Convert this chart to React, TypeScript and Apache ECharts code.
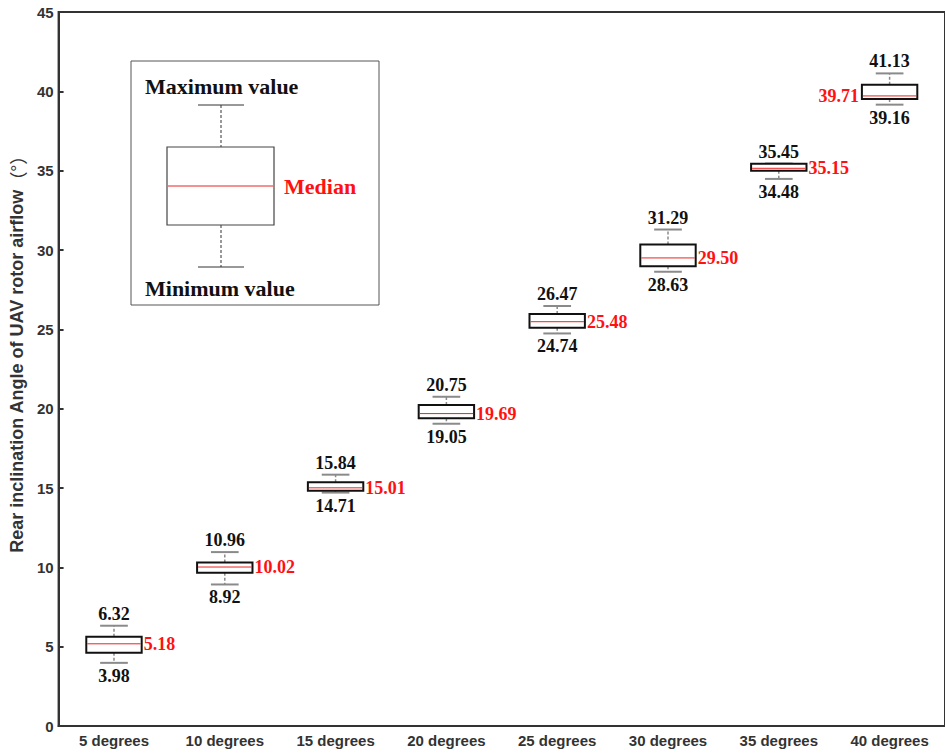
import React, { useEffect, useRef } from "react";
import * as echarts from "echarts";

// Inclination angle categories
const categories = [
  "5 degrees",
  "10 degrees",
  "15 degrees",
  "20 degrees",
  "25 degrees",
  "30 degrees",
  "35 degrees",
  "40 degrees",
];

// Box statistics per category
const minValues = [3.98, 8.92, 14.71, 19.05, 24.74, 28.63, 34.48, 39.16];
const q1Values = [4.62, 9.66, 14.83, 19.39, 25.1, 28.97, 35.0, 39.51];
const medianValues = [5.18, 10.02, 15.01, 19.69, 25.48, 29.5, 35.15, 39.71];
const q3Values = [5.63, 10.31, 15.37, 20.23, 25.96, 30.35, 35.43, 40.41];
const maxValues = [6.32, 10.96, 15.84, 20.75, 26.47, 31.29, 35.45, 41.13];

// Y axis ticks
const yMin = 0;
const yMax = 45;
const yStep = 5;

const yAxisTitle = "Rear inclination Angle of UAV rotor airflow";
const yAxisUnit = "（°）";

const SERIF = "'Liberation Serif', 'Times New Roman', serif";
const SANS = "'Liberation Sans', Arial, sans-serif";
const CJK = "'Noto Sans CJK SC', 'Noto Sans CJK JP', sans-serif";

export default function App() {
  const ref = useRef<HTMLDivElement>(null);

  useEffect(() => {
    if (!ref.current) return;
    const chart = echarts.init(ref.current, null, { renderer: "svg" });

    const rows = categories.map((_, i) => [
      i,
      minValues[i],
      q1Values[i],
      medianValues[i],
      q3Values[i],
      maxValues[i],
    ]);

    const renderBox = (params: any, api: any) => {
      const idx = api.value(0);
      const band = api.size([1, 0])[0];
      const boxW = band * 0.5;
      const capW = band * 0.25;
      const pMin = api.coord([idx, api.value(1)]);
      const pQ1 = api.coord([idx, api.value(2)]);
      const pMed = api.coord([idx, api.value(3)]);
      const pQ3 = api.coord([idx, api.value(4)]);
      const pMax = api.coord([idx, api.value(5)]);
      const cx = pMed[0];
      const left = cx - boxW / 2;
      const right = cx + boxW / 2;
      const isLast = params.dataIndex === categories.length - 1;
      const whiskerStyle = { stroke: "#8a8a8a", lineWidth: 1.5, lineDash: [3, 2] };
      const capStyle = { stroke: "#8a8a8a", lineWidth: 2 };
      const fmt = (v: number) => v.toFixed(2);
      return {
        type: "group",
        children: [
          {
            type: "line",
            shape: { x1: cx, y1: pQ3[1], x2: cx, y2: pMax[1] },
            style: whiskerStyle,
          },
          {
            type: "line",
            shape: { x1: cx, y1: pQ1[1], x2: cx, y2: pMin[1] },
            style: whiskerStyle,
          },
          {
            type: "line",
            shape: { x1: cx - capW / 2, y1: pMax[1], x2: cx + capW / 2, y2: pMax[1] },
            style: capStyle,
          },
          {
            type: "line",
            shape: { x1: cx - capW / 2, y1: pMin[1], x2: cx + capW / 2, y2: pMin[1] },
            style: capStyle,
          },
          {
            type: "rect",
            shape: { x: left, y: pQ3[1], width: boxW, height: pQ1[1] - pQ3[1] },
            style: { fill: "#ffffff", stroke: "#111111", lineWidth: 2 },
          },
          {
            type: "line",
            shape: { x1: left + 1, y1: pMed[1], x2: right - 1, y2: pMed[1] },
            style: { stroke: "#ee2222", lineWidth: 1 },
          },
          {
            type: "text",
            x: cx,
            y: pMax[1] - 3,
            style: {
              text: fmt(api.value(5)),
              textAlign: "center",
              textVerticalAlign: "bottom",
              fill: "#111111",
              font: `bold 18px ${SERIF}`,
            },
          },
          {
            type: "text",
            x: cx,
            y: pMin[1] + 4,
            style: {
              text: fmt(api.value(1)),
              textAlign: "center",
              textVerticalAlign: "top",
              fill: "#111111",
              font: `bold 18px ${SERIF}`,
            },
          },
          {
            type: "text",
            x: isLast ? left - 3 : right + 2,
            y: pMed[1],
            style: {
              text: fmt(api.value(3)),
              textAlign: isLast ? "right" : "left",
              textVerticalAlign: "middle",
              fill: "#ff1111",
              font: `bold 18px ${SERIF}`,
            },
          },
        ],
      };
    };

    // Explanatory inset showing how to read a box
    const keyFont = `bold 22px ${SERIF}`;
    const keyGraphic = [
      {
        type: "rect",
        shape: { x: 131, y: 61, width: 248, height: 244 },
        style: { fill: "#ffffff", stroke: "#555555", lineWidth: 1 },
        z: 10,
      },
      {
        type: "line",
        shape: { x1: 221, y1: 105, x2: 221, y2: 147 },
        style: { stroke: "#333333", lineWidth: 1, lineDash: [3, 2] },
        z: 11,
      },
      {
        type: "line",
        shape: { x1: 221, y1: 225, x2: 221, y2: 267 },
        style: { stroke: "#333333", lineWidth: 1, lineDash: [3, 2] },
        z: 11,
      },
      {
        type: "line",
        shape: { x1: 198, y1: 105, x2: 244, y2: 105 },
        style: { stroke: "#333333", lineWidth: 1 },
        z: 11,
      },
      {
        type: "line",
        shape: { x1: 198, y1: 267, x2: 244, y2: 267 },
        style: { stroke: "#333333", lineWidth: 1 },
        z: 11,
      },
      {
        type: "rect",
        shape: { x: 167, y: 147, width: 107, height: 78 },
        style: { fill: "#ffffff", stroke: "#444444", lineWidth: 1.2 },
        z: 11,
      },
      {
        type: "line",
        shape: { x1: 168, y1: 186, x2: 273, y2: 186 },
        style: { stroke: "#ee2222", lineWidth: 1 },
        z: 12,
      },
      {
        type: "text",
        x: 145,
        y: 86,
        style: { text: "Maximum value", font: keyFont, fill: "#111111", textVerticalAlign: "middle" },
        z: 12,
      },
      {
        type: "text",
        x: 145,
        y: 288,
        style: { text: "Minimum value", font: keyFont, fill: "#111111", textVerticalAlign: "middle" },
        z: 12,
      },
      {
        type: "text",
        x: 284,
        y: 186,
        style: { text: "Median", font: keyFont, fill: "#ff1111", textVerticalAlign: "middle" },
        z: 12,
      },
    ];

    chart.setOption({
      animation: false,
      backgroundColor: "#ffffff",
      grid: {
        left: 56,
        right: -4,
        top: 12,
        bottom: 27,
        show: true,
        borderColor: "#333333",
        borderWidth: 2,
        backgroundColor: "transparent",
      },
      xAxis: {
        type: "category",
        data: categories,
        boundaryGap: true,
        axisLine: { lineStyle: { color: "#333333", width: 2 } },
        axisTick: { alignWithLabel: true, inside: true, length: 5, lineStyle: { color: "#333333", width: 2 } },
        axisLabel: {
          color: "#333333",
          fontFamily: SANS,
          fontWeight: "bold",
          fontSize: 15,
          margin: 7,
        },
        splitLine: { show: false },
      },
      yAxis: {
        type: "value",
        min: yMin,
        max: yMax,
        interval: yStep,
        name: `${yAxisTitle}{u|${yAxisUnit}}`,
        nameLocation: "middle",
        nameRotate: 90,
        nameGap: 24,
        nameTextStyle: {
          color: "#333333",
          fontFamily: SANS,
          fontWeight: "bold",
          fontSize: 18,
          padding: [0, 0, 0, 38],
          rich: {
            u: {
              color: "#333333",
              fontFamily: CJK,
              fontWeight: "normal",
              fontSize: 18,
            },
          },
        },
        axisLine: { show: true, lineStyle: { color: "#333333", width: 2 } },
        axisTick: { show: true, inside: true, length: 5, lineStyle: { color: "#333333", width: 2 } },
        axisLabel: {
          color: "#333333",
          fontFamily: SANS,
          fontWeight: "bold",
          fontSize: 15,
          margin: 5,
        },
        splitLine: { show: false },
      },
      series: [
        {
          type: "custom",
          renderItem: renderBox,
          encode: { x: 0, y: [1, 2, 3, 4, 5] },
          data: rows,
          clip: false,
        },
      ],
      graphic: keyGraphic,
    });

    return () => chart.dispose();
  }, []);

  return (
    <div
      ref={ref}
      style={{ position: "fixed", left: 0, top: 0, width: 945, height: 753 }}
    />
  );
}
